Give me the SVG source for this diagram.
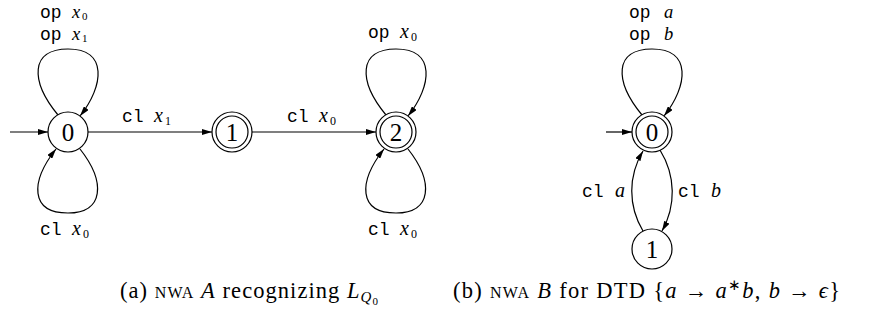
<svg xmlns="http://www.w3.org/2000/svg" width="876" height="329" viewBox="0 0 876 329">
<style>
.st{fill:#fff;stroke:#000;stroke-width:1.2}
.e{fill:none;stroke:#000;stroke-width:1.2;marker-end:url(#ah)}
.nl{font-family:"Liberation Serif",serif;font-size:25px;text-anchor:middle}
.tt{font-family:"Liberation Mono",monospace;font-size:18px}
.mi{font-family:"Liberation Serif",serif;font-style:italic;font-size:20px}
.mt{font-family:"Liberation Serif",serif;font-style:italic;font-size:18.5px}
.sb{font-family:"Liberation Serif",serif;font-style:normal;font-size:12px}
.ss{font-family:"Liberation Serif",serif;font-style:normal;font-size:11px}
.cap{font-family:"Liberation Serif",serif;font-size:22.5px}
.sc{font-size:16px}
</style>
<defs>
<marker id="ah" viewBox="0 0 10 6" refX="10" refY="3" markerWidth="10" markerHeight="6" markerUnits="userSpaceOnUse" orient="auto">
<path d="M0,0 L10,3 L0,6 z" fill="#000"/>
</marker>
</defs>
<g id="connectors">
<path class="e" d="M10,132 L48,132"/>
<path class="e" d="M88,132 L212,132"/>
<path class="e" d="M252,132 L376,132"/>
<path class="e" d="M58,115 C30,81 30,49 68,49 C108,49 104,86 80,116"/>
<path class="e" d="M80,149 C106,182 104,213 68,213 C30,213 30,182 56,149"/>
<path class="e" d="M386,115 C358,81 358,49 396,49 C436,49 432,86 408,116"/>
<path class="e" d="M408,149 C434,182 432,213 396,213 C358,213 358,182 384,149"/>
<path class="e" d="M606,132 L632,132"/>
<path class="e" d="M642,115 C614,81 614,49 652,49 C692,49 688,86 664,116"/>
<path class="e" d="M660,150 C676,176 676,206 662,231"/>
<path class="e" d="M643,231 C628,206 628,176 643,151"/>
</g>
<g id="n0">
<circle class="st" cx="68" cy="132" r="20"/>
<text class="nl" x="68" y="140.5">0</text>
</g>
<g id="n1">
<circle class="st" cx="232" cy="132" r="20"/>
<circle class="st" cx="232" cy="132" r="16"/>
<text class="nl" x="232" y="140.5">1</text>
</g>
<g id="n2">
<circle class="st" cx="396" cy="132" r="20"/>
<circle class="st" cx="396" cy="132" r="16"/>
<text class="nl" x="396" y="140.5">2</text>
</g>
<g id="b0">
<circle class="st" cx="652" cy="132" r="20"/>
<circle class="st" cx="652" cy="132" r="16"/>
<text class="nl" x="652" y="140.5">0</text>
</g>
<g id="b1">
<circle class="st" cx="652" cy="249" r="20"/>
<text class="nl" x="652" y="257.5">1</text>
</g>
<g id="labels">
<text><tspan class="tt" x="40" y="18">op</tspan><tspan class="mt" x="72" y="18">x</tspan><tspan class="ss" x="82" y="20">0</tspan><tspan class="tt" x="40" y="39.5">op</tspan><tspan class="mt" x="72" y="39.5">x</tspan><tspan class="ss" x="82" y="42">1</tspan></text>
<text x="40" y="235"><tspan class="tt">cl</tspan><tspan class="mi" x="72">x</tspan><tspan class="sb" x="83" dy="3">0</tspan></text>
<text x="122" y="122"><tspan class="tt">cl</tspan><tspan class="mi" x="154">x</tspan><tspan class="sb" x="165" dy="3">1</tspan></text>
<text x="287" y="122"><tspan class="tt">cl</tspan><tspan class="mi" x="319">x</tspan><tspan class="sb" x="330" dy="3">0</tspan></text>
<text x="368" y="38"><tspan class="tt">op</tspan><tspan class="mi" x="400">x</tspan><tspan class="sb" x="411" dy="3">0</tspan></text>
<text x="368" y="235"><tspan class="tt">cl</tspan><tspan class="mi" x="400">x</tspan><tspan class="sb" x="411" dy="3">0</tspan></text>
<text><tspan class="tt" x="629" y="18">op</tspan><tspan class="mt" x="664" y="18">a</tspan><tspan class="tt" x="629" y="39.5">op</tspan><tspan class="mt" x="664" y="39.5">b</tspan></text>
<text x="582" y="197"><tspan class="tt">cl</tspan><tspan class="mi" x="615">a</tspan></text>
<text x="678" y="197"><tspan class="tt">cl</tspan><tspan class="mi" x="711">b</tspan></text>
</g>
<g id="captions">
<text class="cap" x="120" y="298" textLength="258" lengthAdjust="spacing">(a) <tspan class="sc">NWA</tspan> <tspan font-style="italic">A</tspan> recognizing <tspan font-style="italic">L</tspan><tspan font-style="italic" font-size="15px" dy="4">Q</tspan><tspan font-size="11px" dy="3">0</tspan></text>
<text class="cap" x="453" y="298" textLength="387" lengthAdjust="spacing">(b) <tspan class="sc">NWA</tspan> <tspan font-style="italic">B</tspan> for DTD {<tspan font-style="italic">a</tspan> → <tspan font-style="italic">a</tspan><tspan font-size="15px" dy="-8">∗</tspan><tspan font-style="italic" dy="8">b</tspan>,  <tspan font-style="italic">b</tspan> → <tspan font-style="italic">ϵ</tspan>}</text>
</g>
</svg>
